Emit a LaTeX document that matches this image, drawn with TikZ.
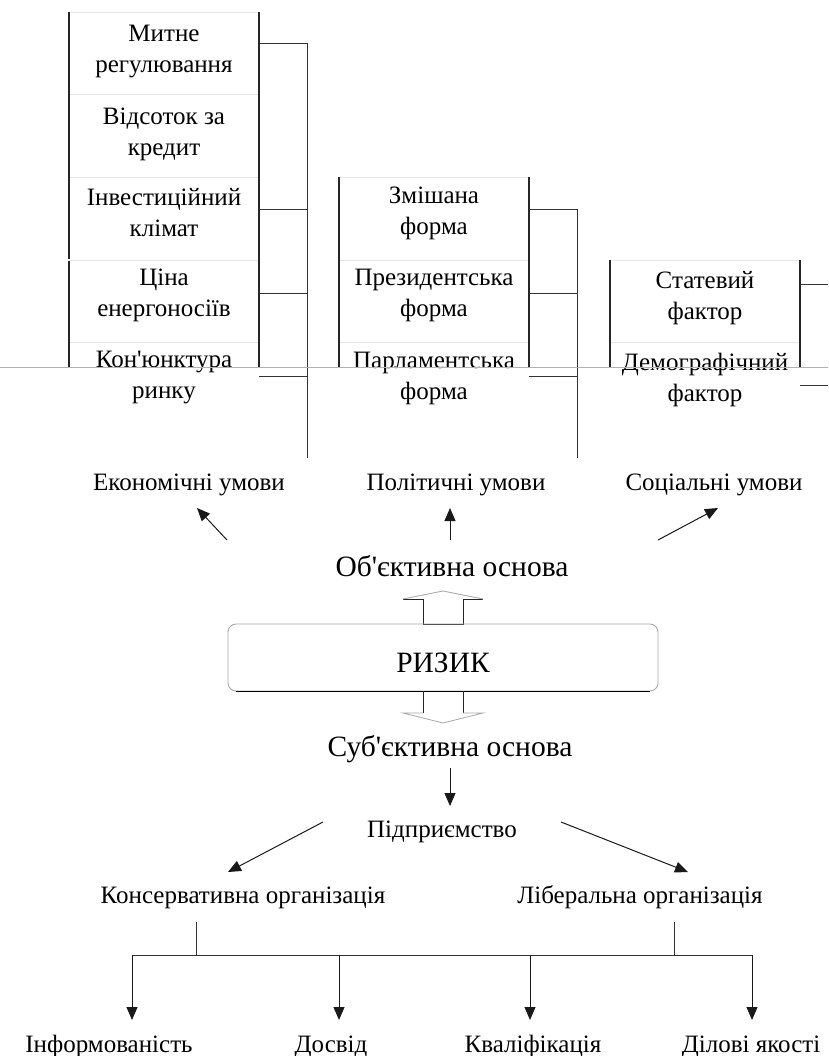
\documentclass[tikz,border=0pt]{standalone}
\usepackage{fontspec}
\setmainfont{Liberation Serif}[Ligatures=TeXOff]
\usetikzlibrary{arrows.meta}
\begin{document}
\begin{tikzpicture}[x=1pt,y=-1pt,
  cell/.style={align=center,font=\fontsize{25}{31}\selectfont,inner sep=0pt},
  lbl/.style={anchor=base,font=\fontsize{25}{28}\selectfont,inner sep=0pt},
  big/.style={anchor=base,font=\fontsize{29.5}{32}\selectfont,inner sep=0pt},
  side/.style={line width=1.4pt,draw=black!85},
  brk/.style={line width=1pt,draw=black!80},
  faint/.style={line width=0.8pt,draw=black!10},
  pale/.style={line width=0.8pt,draw=black!35},
  arr/.style={line width=1pt,draw=black!90,-{Triangle[length=13pt,width=11pt]}},
]
\useasboundingbox (0,0) rectangle (828,1056);

% ---------- economic table ----------
\foreach \y in {12,94,177,260,342} \draw[faint] (69,\y) -- (259,\y);
\draw[side] (69,12) -- (69,259);
\draw[side] (69,261) -- (69,367);
\draw[side] (259,12) -- (259,367);
\node[cell] (e1) at (164,52) {Митне\\регулювання};
\node[cell] (e2) at (164,134) {Відсоток за\\кредит};
\node[cell] (e3) at (164,213) {Інвестиційний\\клімат};
\node[cell] (e4) at (164,295) {Ціна\\енергоносіїв};
\node[cell] (e5) at (164,378) {Кон'юнктура\\ринку};
\coordinate (eb1) at (307,44);
\coordinate (eb2) at (307,458);
\draw[brk] (259,44) -- (eb1) -- (eb2);
\foreach \y in {210,293,376} \draw[brk] (259,\y) -- (307,\y);

% ---------- political table ----------
\foreach \y in {177,260,342} \draw[faint] (339,\y) -- (529,\y);
\draw[side] (339,177) -- (339,367);
\draw[side] (529,177) -- (529,367);
\node[cell] (p1) at (434,213) {Змішана\\форма};
\node[cell] (p2) at (434,295) {Президентська\\форма};
\node[cell] (p3) at (434,378) {Парламентська\\форма};
\coordinate (pb1) at (577,210);
\coordinate (pb2) at (577,458);
\draw[brk] (529,210) -- (pb1) -- (pb2);
\foreach \y in {293,376} \draw[brk] (529,\y) -- (577,\y);

% ---------- social table ----------
\foreach \y in {260,342} \draw[faint] (610,\y) -- (800,\y);
\draw[side] (610,260) -- (610,367);
\draw[side] (800,260) -- (800,367);
\node[cell] (s1) at (705,298) {Статевий\\фактор};
\node[cell] (s2) at (705,380) {Демографічний\\фактор};
\draw[brk] (800,285) -- (828,285);
\draw[brk] (800,385) -- (828,385);

% page-break line
\draw[line width=0.8pt,draw=black!30] (0,367) -- (828,367);

% ---------- condition labels ----------
\node[lbl] (econ) at (189,490) {Економічні умови};
\node[lbl] (pol) at (456,490) {Політичні умови};
\node[lbl] (soc) at (714,490) {Соціальні умови};

\coordinate (ea) at (227,540); \coordinate (eat) at (197,508);
\coordinate (pa) at (450,540); \coordinate (pat) at (450,508);
\coordinate (sa) at (658,540); \coordinate (sat) at (718,508);
\draw[arr] (ea) -- (eat);
\draw[arr] (pa) -- (pat);
\draw[arr] (sa) -- (sat);

\node[big] (obj) at (452,576) {Об'єктивна основа};

% hollow up arrow
\draw[line width=1pt,draw=black!85] (403,599) -- (423,599) -- (423,624) -- (463,624) -- (463,599) -- (483,599);
\draw[pale] (403,599) -- (443,591) -- (483,599);

% risk box
\node[draw=black!35,line width=0.9pt,rounded corners=8pt,minimum width=430pt,minimum height=67pt,inner sep=0pt] (risk) at (443,657.5) {};
\node[big] (risktext) at (443,672) {РИЗИК};
\draw[line width=1.2pt,draw=black] ([xshift=8pt]risk.south west) -- ([xshift=-8pt]risk.south east);

% hollow down arrow
\draw[line width=1pt,draw=black!85] (423,691) -- (423,713);
\draw[line width=1pt,draw=black!85] (463,691) -- (463,713);
\draw[pale] (423,713) -- (403,713) -- (443,723) -- (483,713) -- (463,713);

\node[big] (subj) at (450,756) {Суб'єктивна основа};
\coordinate (sd) at (450,768); \coordinate (sdt) at (450,806);
\draw[arr] (sd) -- (sdt);

\node[lbl] (ent) at (442,837) {Підприємство};
\coordinate (l1) at (323,822); \coordinate (l1t) at (228,872);
\coordinate (r1) at (561,822); \coordinate (r1t) at (688,872);
\draw[arr] (l1) -- (l1t);
\draw[arr] (r1) -- (r1t);

\node[lbl] (cons) at (243,903) {Консервативна організація};
\node[lbl] (lib) at (640,903) {Ліберальна організація};

\coordinate (c1) at (196,922); \coordinate (c2) at (196,955);
\coordinate (b1) at (674,922); \coordinate (b2) at (674,955);
\coordinate (h1) at (132,955); \coordinate (h2) at (339,955);
\coordinate (h3) at (530,955); \coordinate (h4) at (752,955);
\draw[brk] (c1) -- (c2);
\draw[brk] (b1) -- (b2);
\draw[brk] (h1) -- (h4);

\node[lbl] (inf) at (109,1052) {Інформованість};
\node[lbl] (exp) at (331,1052) {Досвід};
\node[lbl] (qual) at (533,1052) {Кваліфікація};
\node[lbl] (biz) at (751,1052) {Ділові якості};

\draw[arr] (h1) -- (132,1020);
\draw[arr] (h2) -- (339,1020);
\draw[arr] (h3) -- (530,1020);
\draw[arr] (h4) -- (752,1020);
\end{tikzpicture}
\end{document}
